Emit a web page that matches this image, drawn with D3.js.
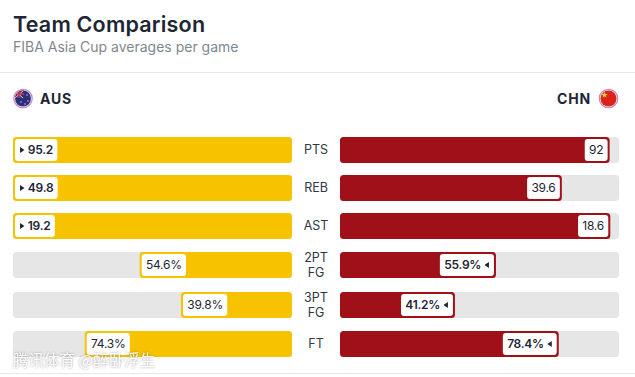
<!DOCTYPE html>
<html><head><meta charset="utf-8">
<style>html,body{margin:0;padding:0;background:#fff;overflow:hidden}svg{display:block}text{font-family:Inter,"Noto Sans",sans-serif}</style>
<script src="https://cdn.jsdelivr.net/npm/d3@7/dist/d3.min.js"></script></head><body>
<svg id="c" width="635" height="377"></svg>
<script>
const title = "Team Comparison";
const subtitle = "FIBA Asia Cup averages per game";
const teamA = "AUS";
const teamB = "CHN";
const categories = ["PTS","REB","AST","2PT FG","3PT FG","FT"];
const valuesA = [95.2,49.8,19.2,54.6,39.8,74.3];
const valuesB = [92,39.6,18.6,55.9,41.2,78.4];
const isPercent = [false,false,false,true,true,true];
const watermark = "腾讯体育 @醉卧浮生";

const YEL="#f7c200", RED="#a01019", TRACK="#e6e6e6", INK="#1e2633";
const svg=d3.select("#c");
const rowTop=d3.scaleOrdinal().domain(categories).range([137,175,213,252,292,331]);
const barH=26;
const scaleFor=i=>d3.scaleLinear().domain([0,isPercent[i]?100:Math.max(valuesA[i],valuesB[i])]).range([0,279]);
const rx=3.5;

svg.append("text").attr("x",13).attr("y",31.5).attr("font-size",21.5).attr("font-weight",600).attr("letter-spacing",.2).attr("fill",INK).text(title);
svg.append("text").attr("x",13).attr("y",52).attr("font-size",14).attr("fill","#7f8790").text(subtitle);
[72.5,373.5].forEach(y=>svg.append("line").attr("x1",0).attr("x2",635).attr("y1",y).attr("y2",y).attr("stroke","#e8e8e8"));

svg.append("text").attr("x",40).attr("y",104).attr("font-size",14).attr("font-weight",700).attr("letter-spacing",.8).attr("fill",INK).text(teamA);
svg.append("text").attr("x",591).attr("y",104).attr("text-anchor","end").attr("font-size",14).attr("font-weight",700).attr("letter-spacing",.8).attr("fill",INK).text(teamB);

const defs=svg.append("defs");
defs.append("clipPath").attr("id","fa").append("circle").attr("cx",23).attr("cy",98.5).attr("r",8);
defs.append("clipPath").attr("id","fb").append("circle").attr("cx",608.5).attr("cy",98.5).attr("r",8);
[[23,"#2b2f7c"],[608.5,"#dc2318"]].forEach(([cx,f])=>{
  svg.append("circle").attr("cx",cx).attr("cy",98.5).attr("r",9.2).attr("fill","#fff").attr("stroke","#c98ac0").attr("stroke-width",1.3);
  svg.append("circle").attr("cx",cx).attr("cy",98.5).attr("r",8).attr("fill",f);
});
const ga=svg.append("g").attr("clip-path","url(#fa)");
ga.append("rect").attr("x",15).attr("y",90).attr("width",9).attr("height",8).attr("fill","#2b2f7c");
ga.append("path").attr("d","M15 91L23 98M23 91L15 98").attr("stroke","#e8c8d8").attr("stroke-width",1);
ga.append("path").attr("d","M19 90V98M15 94H24").attr("stroke","#e03040").attr("stroke-width",1.5);
[[27,95],[28,101],[25,104],[21,102]].forEach(([x,y])=>ga.append("circle").attr("cx",x).attr("cy",y).attr("r",.7).attr("fill","#dcdcf0"));
const gb=svg.append("g").attr("clip-path","url(#fb)");
gb.append("path").attr("d",d3.symbol(d3.symbolStar,14)()).attr("transform","translate(604.5,95)").attr("fill","#f5d33a");

const rows=svg.selectAll("g.row").data(categories).join("g").attr("class","row");
rows.each(function(cat,i){
  const g=d3.select(this), y=rowTop(cat), s=scaleFor(i);
  const words=cat.split(" ");
  const t=g.append("text").attr("text-anchor","middle").attr("font-size",12.5).attr("fill","#2f3744");
  words.forEach((w,k)=>t.append("tspan").attr("x",316).attr("y",y+barH/2+4.3+(k-(words.length-1)/2)*14.5).text(w));
  g.append("rect").attr("x",13).attr("y",y).attr("width",279).attr("height",barH).attr("rx",rx).attr("fill",TRACK);
  const wa=s(valuesA[i]);
  g.append("rect").attr("x",292-wa).attr("y",y).attr("width",wa).attr("height",barH).attr("rx",rx).attr("fill",YEL);
  g.append("rect").attr("x",340).attr("y",y).attr("width",279).attr("height",barH).attr("rx",rx).attr("fill",TRACK);
  const wb=s(valuesB[i]);
  g.append("rect").attr("x",340).attr("y",y).attr("width",wb).attr("height",barH).attr("rx",rx).attr("fill",RED);
  const fmt=v=>v+(isPercent[i]?"%":"");
  const aWin=valuesA[i]>valuesB[i];
  const pad=4.3, tri=8.5, fs=12, ls=-.25;
  const ta=g.append("text").attr("y",y+barH/2+4.3).attr("font-size",fs).attr("letter-spacing",ls).attr("font-weight",aWin?600:400).attr("fill",INK).text(fmt(valuesA[i]));
  const la=ta.node().getComputedTextLength();
  const xa=292-wa+2, ba=la+pad*2+(aWin?tri:0);
  g.insert("rect","text:last-child").attr("x",xa).attr("y",y+2).attr("width",ba).attr("height",barH-4).attr("rx",3).attr("fill","#fff");
  ta.attr("x",xa+(aWin?pad+tri:pad));
  if(aWin) g.append("path").attr("d",`M${xa+5} ${y+barH/2-3}l4.5 3l-4.5 3z`).attr("fill",INK);
  const tb=g.append("text").attr("y",y+barH/2+4.3).attr("font-size",fs).attr("letter-spacing",ls).attr("font-weight",aWin?400:600).attr("fill",INK).text(fmt(valuesB[i]));
  const lb=tb.node().getComputedTextLength();
  const xe=340+wb-2, bb=lb+pad*2+(aWin?0:tri);
  g.insert("rect","text:last-child").attr("x",xe-bb).attr("y",y+2).attr("width",bb).attr("height",barH-4).attr("rx",3).attr("fill","#fff");
  tb.attr("x",xe-bb+pad);
  if(!aWin) g.append("path").attr("d",`M${xe-5} ${y+barH/2-3}l-4.5 3l4.5 3z`).attr("fill",INK);
});

svg.append("text").attr("x",13).attr("y",366).attr("font-size",15.5)
  .style("font-family",'"Noto Sans CJK SC",sans-serif').attr("fill","rgba(255,255,255,.92)")
  .style("filter","drop-shadow(0 0 1px rgba(70,70,70,.55))").text(watermark);
</script></body></html>
